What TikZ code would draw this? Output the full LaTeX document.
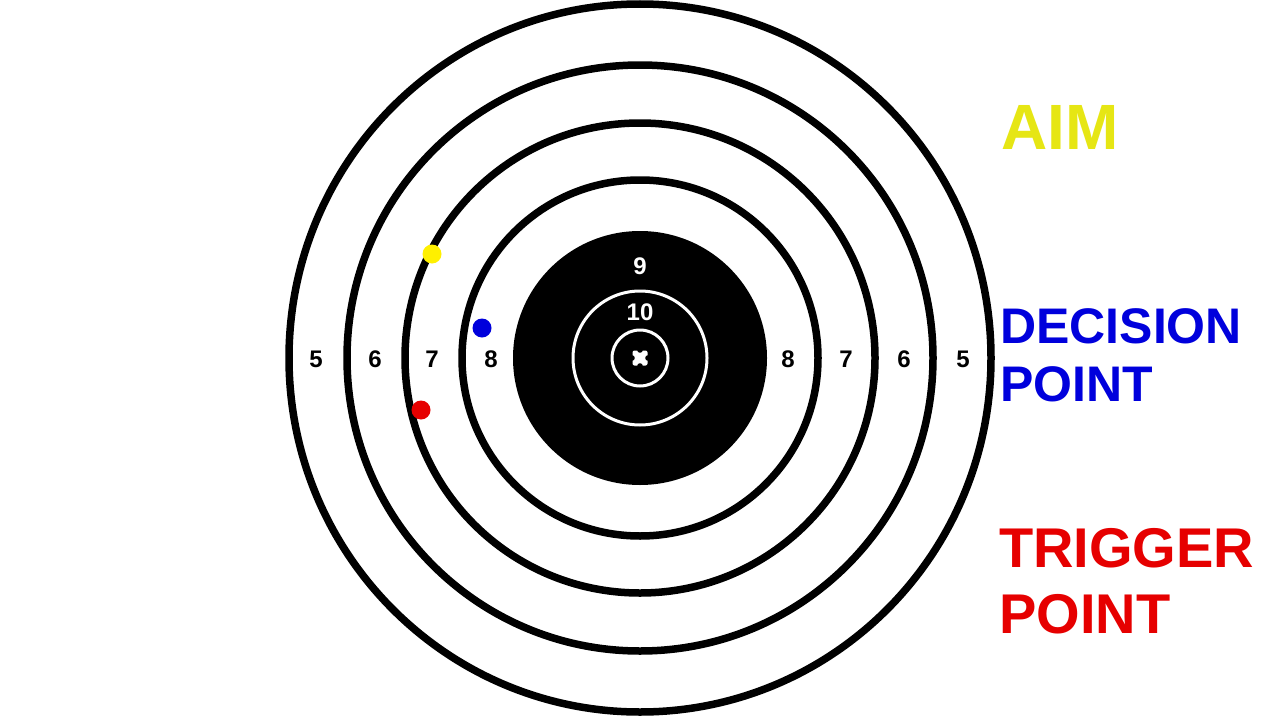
\documentclass[tikz,border=0pt]{standalone}
\usepackage{fontspec}
\setmainfont{Liberation Sans}
\usetikzlibrary{calc}
\definecolor{aimy}{RGB}{230,230,20}
\definecolor{dotyel}{RGB}{255,240,0}
\definecolor{decb}{RGB}{0,0,220}
\definecolor{trigr}{RGB}{230,0,0}
\begin{document}
\begin{tikzpicture}[x=1pt,y=-1pt,
  ring/.style={draw=black,line width=7.5pt},
  wring/.style={draw=white,line width=3pt},
  num/.style={font=\fontsize{24}{24}\selectfont\bfseries,inner sep=0pt},
  wnum/.style={num,text=white},
  bigtxt/.style={anchor=west,inner sep=0pt,align=left,font=\bfseries},
  shot/.style={circle,inner sep=0pt,minimum size=19pt}]
\useasboundingbox (0,0) rectangle (1280,720);
\fill[white] (0,0) rectangle (1280,720);
\coordinate (c) at (640,358);
\draw[ring] (c) circle[x radius=351,y radius=354];
\draw[ring] (c) circle[radius=293];
\draw[ring] (c) circle[radius=235];
\draw[ring] (c) circle[radius=178];
\fill[black] (c) circle[radius=127];
\draw[wring] (c) circle[radius=67];
\draw[wring] (c) circle[radius=28];
\fill[white,rounded corners=2pt] (632.5,350.5) rectangle (647.5,365.5);
\foreach \a in {0,90,180,270} \fill[black] ($(c)+(\a:8)$) circle[radius=2.8];
% numbers
\node[num] (l5) at (316,359) {5};
\node[num] (l6) at (375,359) {6};
\node[num] (l7) at (432,359) {7};
\node[num] (l8) at (491,359) {8};
\node[num] (r8) at (788,359) {8};
\node[num] (r7) at (846,359) {7};
\node[num] (r6) at (904,359) {6};
\node[num] (r5) at (963,359) {5};
\node[wnum] (n9) at (640,266) {9};
\node[wnum] (n10) at (640,312) {10};
% shots
\node[shot,fill=dotyel] (ya) at (432,254) {};
\node[shot,fill=decb] (bd) at (482,328) {};
\node[shot,fill=trigr] (rt) at (421,410) {};
% labels
\node[bigtxt,text=aimy,font=\fontsize{64}{76}\selectfont\bfseries] (aim) at (1001,127) {AIM};
\node[bigtxt,text=decb,font=\fontsize{50}{58}\selectfont\bfseries] (dec) at (1000,355) {DECISION\\POINT};
\node[bigtxt,text=trigr,font=\fontsize{56}{66}\selectfont\bfseries] (trg) at (999,581) {TRIGGER\\POINT};
\end{tikzpicture}
\end{document}
